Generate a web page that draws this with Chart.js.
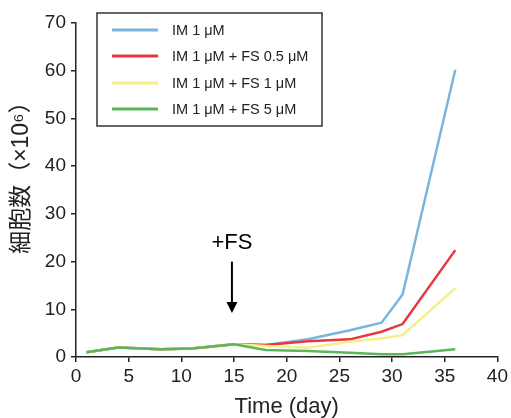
<!DOCTYPE html>
<html>
<head>
<meta charset="utf-8">
<script src="https://cdn.jsdelivr.net/npm/chart.js@4"></script>
<style>
  html, body { margin: 0; padding: 0; background: #fff; }
  #wrap { width: 511px; height: 418px; }
</style>
</head>
<body>
<div id="wrap"><canvas id="chart" width="511" height="418"></canvas></div>
<script>
// ── Data ──
const DAYS = [1, 4, 8, 11, 15, 18, 22, 26, 29, 31, 36];

const IM_ONLY  = [1.0, 2.0, 1.6, 1.8, 2.65, 2.5, 3.7, 5.6, 7.2, 13.1, 60.2];
const FS_05    = [1.0, 2.0, 1.6, 1.8, 2.65, 2.5, 3.3, 3.7, 5.3, 6.9, 22.4];
const FS_1     = [1.0, 2.0, 1.6, 1.8, 2.65, 2.3, 1.95, 3.2, 3.9, 4.6, 14.4];
const FS_5     = [1.0, 2.0, 1.6, 1.8, 2.65, 1.45, 1.25, 0.9, 0.6, 0.6, 1.6];

const LABELS = ["IM 1 μM", "IM 1 μM + FS 0.5 μM", "IM 1 μM + FS 1 μM", "IM 1 μM + FS 5 μM"];
const COLORS = ["#7ab5dc", "#e8383d", "#f6ef8e", "#5bb65b"];

const X_TICKS = [0, 5, 10, 15, 20, 25, 30, 35, 40];
const Y_TICKS = [0, 10, 20, 30, 40, 50, 60, 70];

// annotation: arrow at the day FS was added
const ARROW_DAY = 14.8;

const FONT = "'Liberation Sans', Arial, 'Noto Sans CJK JP', sans-serif";
const INK = "#222";

function series(values) {
  return DAYS.map(function (d, i) { return { x: d, y: values[i] }; });
}

// ── Plugins: boxed legend + "+FS" arrow ──

const boxLegend = {
  id: "boxLegend",
  afterDraw: function (chart) {
    var ctx = chart.ctx;
    ctx.save();
    ctx.strokeStyle = "#333";
    ctx.lineWidth = 1.5;
    ctx.strokeRect(97, 13, 225, 113);
    var rows = [30, 56, 83, 109];
    ctx.font = "14.5px " + FONT;
    ctx.textBaseline = "middle";
    chart.data.datasets.forEach(function (ds, i) {
      ctx.strokeStyle = ds.borderColor;
      ctx.lineWidth = 3;
      ctx.beginPath();
      ctx.moveTo(112, rows[i]);
      ctx.lineTo(158, rows[i]);
      ctx.stroke();
      ctx.fillStyle = INK;
      ctx.fillText(ds.label, 172, rows[i] + 1);
    });
    ctx.restore();
  },
};

const fsArrow = {
  id: "fsArrow",
  afterDatasetsDraw: function (chart) {
    var ctx = chart.ctx;
    var xs = chart.scales.x, ys = chart.scales.y;
    var x = xs.getPixelForValue(ARROW_DAY);
    var top = ys.getPixelForValue(20);
    var tip = ys.getPixelForValue(9.2);
    ctx.save();
    ctx.fillStyle = "#000";
    ctx.strokeStyle = "#000";
    ctx.font = "22px " + FONT;
    ctx.textAlign = "center";
    ctx.textBaseline = "middle";
    ctx.fillText("+FS", x, ys.getPixelForValue(24));
    ctx.lineWidth = 2;
    ctx.beginPath();
    ctx.moveTo(x, top);
    ctx.lineTo(x, tip - 8);
    ctx.stroke();
    ctx.beginPath();
    ctx.moveTo(x - 5.5, tip - 11);
    ctx.lineTo(x + 5.5, tip - 11);
    ctx.lineTo(x, tip);
    ctx.closePath();
    ctx.fill();
    ctx.restore();
  },
};

// ── Chart ──

const allSeries = [IM_ONLY, FS_05, FS_1, FS_5];

new Chart(document.getElementById("chart"), {
  type: "line",
  data: {
    datasets: allSeries.map(function (vals, i) {
      return {
        label: LABELS[i],
        data: series(vals),
        borderColor: COLORS[i],
        borderWidth: 2.5,
        pointRadius: 0,
        tension: 0,
        fill: false,
        order: allSeries.length - i,
      };
    }),
  },
  options: {
    responsive: false,
    animation: false,
    layout: { padding: { top: 23, right: 12, left: 0, bottom: 0 } },
    plugins: { legend: { display: false }, tooltip: { enabled: false } },
    scales: {
      x: {
        type: "linear",
        min: 0,
        max: 40,
        afterBuildTicks: function (s) { s.ticks = X_TICKS.map(function (v) { return { value: v }; }); },
        afterFit: function (s) { s.height = 61; },
        grid: { drawOnChartArea: false, drawTicks: true, tickLength: 5, color: INK, lineWidth: 1.5 },
        border: { display: true, color: INK, width: 1.5 },
        ticks: { color: INK, padding: 3, maxRotation: 0, font: { family: FONT, size: 19 } },
        title: {
          display: true,
          text: "Time (day)",
          color: INK,
          padding: 0,
          font: { family: FONT, size: 22, lineHeight: 1.0 },
        },
      },
      y: {
        min: 0,
        max: 70,
        afterBuildTicks: function (s) { s.ticks = Y_TICKS.map(function (v) { return { value: v }; }); },
        afterFit: function (s) { s.width = 76; },
        grid: { drawOnChartArea: false, drawTicks: true, tickLength: 5, color: INK, lineWidth: 1.5 },
        border: { display: true, color: INK, width: 1.5 },
        ticks: { color: INK, padding: 5, font: { family: FONT, size: 19 } },
        title: {
          display: true,
          text: "\u3000  細胞数（×10⁶）",
          color: INK,
          padding: { top: 8, bottom: 0 },
          font: { family: FONT, size: 23 },
        },
      },
    },
  },
  plugins: [boxLegend, fsArrow],
});
</script>
</body>
</html>
